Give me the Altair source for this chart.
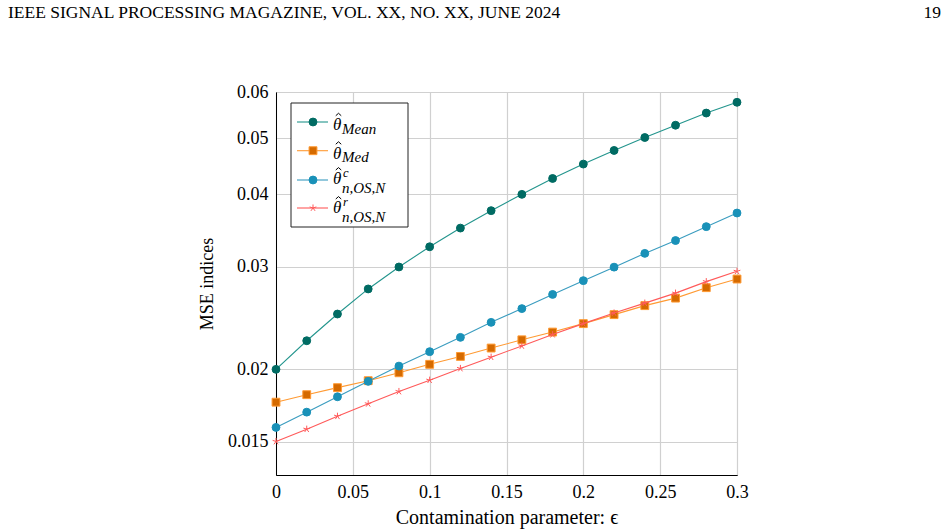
import altair as alt
import pandas as pd

# ---------------- data ----------------
eps = [0.00, 0.02, 0.04, 0.06, 0.08, 0.10, 0.12, 0.14,
       0.16, 0.18, 0.20, 0.22, 0.24, 0.26, 0.28, 0.30]
mse_mean = [0.0200, 0.0224, 0.0249, 0.0275, 0.0300, 0.0325, 0.0350, 0.0375,
            0.0400, 0.0426, 0.0451, 0.0476, 0.0501, 0.0526, 0.0552, 0.0576]
mse_med = [0.01756, 0.01809, 0.01860, 0.01912, 0.01973, 0.02040, 0.02105, 0.02176,
           0.02248, 0.02318, 0.02397, 0.02484, 0.02574, 0.02652, 0.02764, 0.02860]
mse_os_c = [0.01589, 0.01688, 0.01794, 0.01907, 0.02026, 0.02145, 0.02270, 0.02409,
            0.02544, 0.02691, 0.02842, 0.02998, 0.03166, 0.03331, 0.03520, 0.03715]
mse_os_r = [0.01503, 0.01578, 0.01661, 0.01745, 0.01832, 0.01916, 0.02007, 0.02099,
            0.02194, 0.02295, 0.02397, 0.02500, 0.02600, 0.02705, 0.02831, 0.02949]

x_ticks = [0, 0.05, 0.1, 0.15, 0.2, 0.25, 0.3]
y_ticks = [0.015, 0.02, 0.03, 0.04, 0.05, 0.06]

series_names = ["mean", "med", "os_c", "os_r"]
series_values = [mse_mean, mse_med, mse_os_c, mse_os_r]

header_left = "IEEE SIGNAL PROCESSING MAGAZINE, VOL. XX, NO. XX, JUNE 2024"
header_right = "19"
x_title = "Contamination parameter: \u03f5"
y_title = "MSE indices"

# ---------------- styles ----------------
STAR = ("M0,0L0,-1M0,0L-0.951,-0.309M0,0L-0.588,0.809"
        "M0,0L0.588,0.809M0,0L0.951,-0.309")
HAT = "M-1,0.45L0,-0.45L1,0.45"
styles = {
    "mean": dict(line="#23958d", fill="#006b63", stroke="#006b63", shape="circle", size=62, filled=True),
    "med": dict(line="#ff9a33", fill="#d56a00", stroke="#ff9a33", shape="square", size=62, filled=True),
    "os_c": dict(line="#3a9cbf", fill="#1991b8", stroke="#1991b8", shape="circle", size=62, filled=True),
    "os_r": dict(line="#ff5a5a", fill="#ff5a5a", stroke="#ff5a5a", shape=STAR, size=50, filled=False),
}

rows = []
for name, vals in zip(series_names, series_values):
    for e, v in zip(eps, vals):
        rows.append({"series": name, "eps": e, "mse": v})
df = pd.DataFrame(rows)

SERIF = "Liberation Serif"

x_enc = alt.X("eps:Q",
              scale=alt.Scale(domain=[0, 0.3], nice=False, zero=False),
              axis=alt.Axis(values=x_ticks, format="~g", title=x_title,
                            titleX=230.5, titleY=42, titleBaseline="middle",
                            titleFontSize=20, titleFontWeight="normal"))
y_enc = alt.Y("mse:Q",
              scale=alt.Scale(type="log", domain=[0.01316, 0.06], nice=False),
              axis=alt.Axis(values=y_ticks, format="~g", title=y_title,
                            titleX=-69, titleY=191.5, titleBaseline="middle",
                            titleFontSize=18, titleFontWeight="normal"))

base = alt.Chart(df).encode(x=x_enc, y=y_enc)


def marker(chart, st):
    if st["filled"]:
        return chart.mark_point(shape=st["shape"], size=st["size"], filled=True,
                                fill=st["fill"], stroke=st["stroke"], strokeWidth=1, opacity=1)
    return chart.mark_point(shape=st["shape"], size=st["size"], filled=False,
                            stroke=st["stroke"], strokeWidth=1, opacity=1)


layers = []
for name in series_names:
    st = styles[name]
    sub = base.transform_filter(alt.datum.series == name)
    layers.append(sub.mark_line(color=st["line"], strokeWidth=1.1))
    layers.append(marker(sub, st))

one = pd.DataFrame({"k": [0]})

# ---------------- legend ----------------
layers.append(alt.Chart(one).mark_rect(fill="white", stroke="#222", strokeWidth=1).encode(
    x=alt.value(15), x2=alt.value(132), y=alt.value(11), y2=alt.value(135)))

row_y = [30, 58.7, 88, 116]
for name, yy in zip(series_names, row_y):
    st = styles[name]
    layers.append(alt.Chart(one).mark_rule(color=st["line"], strokeWidth=1.1).encode(
        x=alt.value(21), x2=alt.value(52), y=alt.value(yy), y2=alt.value(yy)))
    layers.append(marker(alt.Chart(one), st).encode(x=alt.value(37), y=alt.value(yy)))


def txt(s, x, y, size, font=SERIF, style="italic", align="left", baseline="alphabetic", color="black"):
    return alt.Chart(pd.DataFrame({"t": [s]})).mark_text(
        font=font, fontSize=size, fontStyle=style, align=align, baseline=baseline, color=color
    ).encode(x=alt.value(x), y=alt.value(y), text="t:N")


theta = "\u03b8"
legend_text = [
    (38.0, None, "Mean", 41.5),
    (66.5, None, "Med", 70.0),
    (92.3, "c", "n,OS,N", 101.0),
    (121.3, "r", "n,OS,N", 130.0),
]
for base_y, sup, subs, sub_y in legend_text:
    layers.append(txt(theta, 57, base_y, 17))
    # circumflex accent over theta
    layers.append(alt.Chart(one).mark_point(shape=HAT, size=30, filled=False, stroke="black",
                                            strokeWidth=1, opacity=1)
                  .encode(x=alt.value(62.5), y=alt.value(base_y - 15.5)))
    layers.append(txt(subs, 66, sub_y, 15))
    if sup:
        layers.append(txt(sup, 67, base_y - 7, 12.5))

# ---------------- header ----------------
layers.append(txt(header_left, -268, -74, 17.5, style="normal"))
layers.append(txt(header_right, 665, -74, 17.5, style="normal", align="right"))

chart = alt.layer(*layers).properties(
    width=461, height=383,
    autosize=alt.AutoSizeParams(type="none"),
    padding={"left": 276, "top": 92, "right": 211, "bottom": 57},
).configure_view(
    stroke="#222", strokeWidth=1
).configure_axis(
    labelFont=SERIF, titleFont=SERIF, labelFontSize=18,
    labelColor="black", titleColor="black",
    domainColor="black", domainWidth=1,
    gridColor="#d0d0d0", gridWidth=1.2, ticks=False, labelPadding=8,
    labelFlush=False, labelOverlap=False, labelBound=False,
)

chart.save("out.html", embed_options={"renderer": "svg", "actions": False})
